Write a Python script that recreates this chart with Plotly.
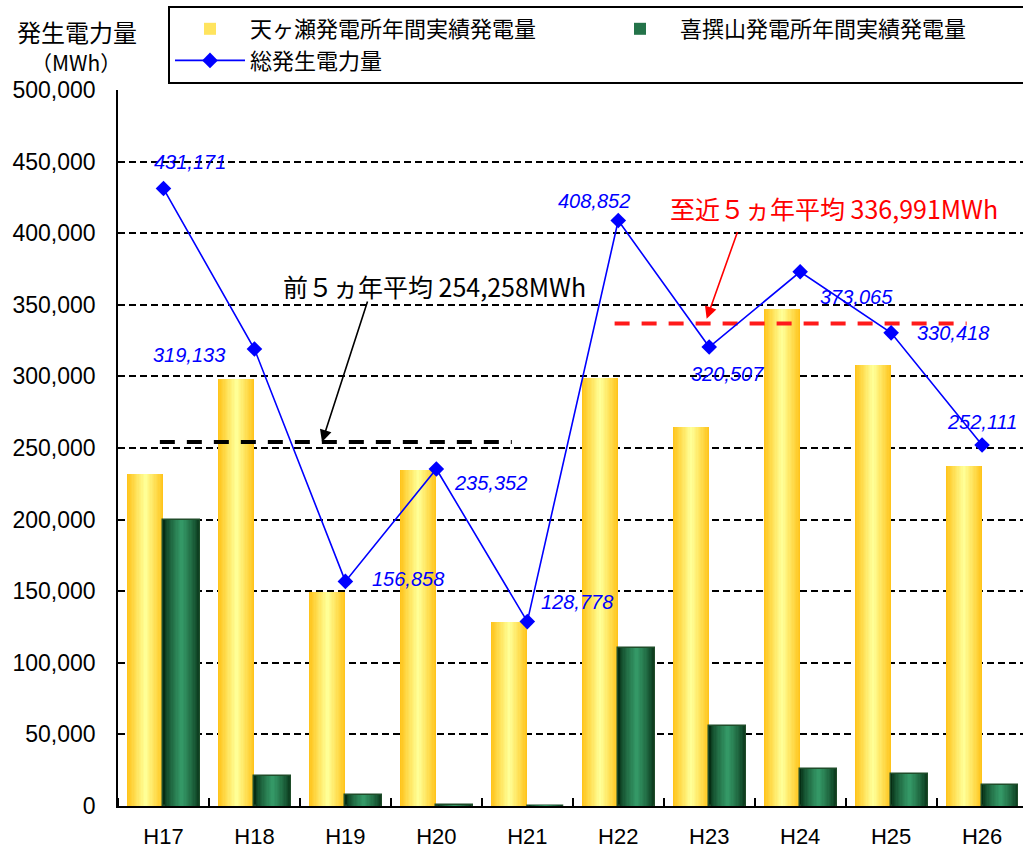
import plotly.graph_objects as go

# ---- data -------------------------------------------------------------
years = ["H17", "H18", "H19", "H20", "H21", "H22", "H23", "H24", "H25", "H26"]
amagase = [231500, 298000, 149500, 234900, 128478, 298600, 264500, 347400, 308000, 237500]
kisenyama = [199671, 21133, 7358, 452, 300, 110252, 56007, 25665, 22418, 14611]
total = [431171, 319133, 156858, 235352, 128778, 408852, 320507, 373065, 330418, 252111]
avg_prev = 254258      # 前5ヵ年平均 (H17-H21)
avg_recent = 336991    # 至近5ヵ年平均 (H22-H26)
y_ticks = list(range(0, 500001, 50000))

name_amagase = "天ヶ瀬発電所年間実績発電量"
name_kisen = "喜撰山発電所年間実績発電量"
name_total = "総発生電力量"

# ---- geometry / style -------------------------------------------------
W_PX, H_PX = 1023, 850
M_L, M_T, M_B, M_R = 118, 90, 44, 0
X_RANGE = [-0.5, 9.45]
Y_RANGE = [0, 500000]
BAR_W = 0.40          # width of each bar (category units)
LAYERS = 14           # layers used to shade each bar horizontally

# pixel offsets of the value labels on the total line
label_offsets = [(27, 27), (-65, -6), (63, 2), (54, -14), (50, 20),
                 (-24, 20), (18, -27), (56, -25), (62, 0), (0, 23)]

CJK = "Noto Sans CJK JP, Noto Sans CJK SC, sans-serif"
LAT = "Liberation Sans, Arial, sans-serif"

x = list(range(len(years)))
PLOT_W = W_PX - M_L - M_R
PLOT_H = H_PX - M_T - M_B


def mix(c0, c1, t):
    r, g, b = (round(a + (bb - a) * t) for a, bb in zip(c0, c1))
    return f"rgb({r},{g},{b})"


def px_to_x(px):
    return X_RANGE[0] + (px - M_L) / PLOT_W * (X_RANGE[1] - X_RANGE[0])


def px_to_y(py):
    return Y_RANGE[0] + (H_PX - M_B - py) / PLOT_H * (Y_RANGE[1] - Y_RANGE[0])


def px_to_paper(px, py):
    return (px - M_L) / PLOT_W, (H_PX - M_B - py) / PLOT_H


yellow_edge, yellow_mid = (255, 196, 28), (255, 255, 150)
green_edge, green_mid = (6, 46, 20), (52, 152, 102)

fig = go.Figure()

# shaded bars: stack of narrowing layers sharing the same values
for k in range(LAYERS):
    w = BAR_W * (1 - k / LAYERS)
    t = k / (LAYERS - 1)
    fig.add_bar(
        x=x, y=amagase, width=w, offset=-BAR_W / 2 - w / 2,
        marker=dict(color=mix(yellow_edge, yellow_mid, t), line=dict(width=0)),
        name=name_amagase, legendgroup="a", showlegend=(k == LAYERS // 2),
    )
for k in range(LAYERS):
    w = BAR_W * (1 - k / LAYERS)
    t = (k / (LAYERS - 1)) ** 0.7
    fig.add_bar(
        x=x, y=kisenyama, width=w, offset=BAR_W / 2 - w / 2,
        marker=dict(color=mix(green_edge, green_mid, t),
                    line=dict(width=1.5 if k == 0 else 0, color="#1f4d2a")),
        name=name_kisen, legendgroup="k", showlegend=(k == LAYERS // 2),
    )

# five-year average lines
prev_span = [years.index("H17") - 0.04, years.index("H21") - 0.17]
recent_span = [years.index("H22") - 0.04, years.index("H26") - 0.17]
fig.add_scatter(x=prev_span, y=[avg_prev, avg_prev], mode="lines",
                line=dict(color="black", width=4, dash="15px,12px"),
                showlegend=False)
fig.add_scatter(x=recent_span, y=[avg_recent, avg_recent], mode="lines",
                line=dict(color="#FF1A1A", width=4, dash="15px,12px"),
                showlegend=False)

# total generation line
fig.add_scatter(
    x=x, y=total, mode="lines+markers", name=name_total,
    line=dict(color="#0000FF", width=1.6),
    marker=dict(symbol="diamond", size=12, color="#0000FF"),
)

annotations = []
for i, v in enumerate(total):
    dx, dy = label_offsets[i]
    annotations.append(dict(
        x=x[i], y=v, xref="x", yref="y", text=f"{v:,}", showarrow=False,
        xshift=dx, yshift=dy,
        font=dict(family=LAT, size=20, color="#0000FF", style="italic"),
    ))

tx1, ty1 = px_to_paper(77, 32)
tx2, ty2 = px_to_paper(76, 62)

annotations += [
    dict(x=px_to_x(434), y=px_to_y(286), xref="x", yref="y", showarrow=False,
         text=f"前５ヵ年平均 {avg_prev:,}MWh",
         font=dict(family=CJK, size=25, color="black")),
    dict(x=px_to_x(322), y=avg_prev, xref="x", yref="y", text="",
         showarrow=True, ax=46, ay=-142, arrowhead=2, arrowsize=1.5,
         arrowwidth=1.6, arrowcolor="black"),
    dict(x=px_to_x(834), y=px_to_y(208), xref="x", yref="y", showarrow=False,
         text=f"至近５ヵ年平均 {avg_recent:,}MWh",
         font=dict(family=CJK, size=25, color="#FF0000")),
    dict(x=px_to_x(705), y=avg_recent, xref="x", yref="y", text="",
         showarrow=True, ax=33, ay=-93, standoff=5, arrowhead=2, arrowsize=1.5,
         arrowwidth=1.6, arrowcolor="#FF0000"),
    # y-axis title
    dict(x=tx1, y=ty1, xref="paper", yref="paper",
         text="発生電力量", showarrow=False, xanchor="center", yanchor="middle",
         font=dict(family=CJK, size=24, color="black")),
    dict(x=tx2, y=ty2, xref="paper", yref="paper",
         text="（MWh）", showarrow=False, xanchor="center", yanchor="middle",
         font=dict(family=CJK, size=21, color="black")),
]

fig.update_layout(
    width=W_PX, height=H_PX,
    margin=dict(l=M_L, r=M_R, t=M_T, b=M_B, pad=0, autoexpand=False),
    paper_bgcolor="white", plot_bgcolor="white",
    barmode="overlay", bargap=0,
    font=dict(family=LAT, color="black"),
    annotations=annotations,
    legend=dict(
        orientation="h", xref="container", yref="container",
        x=168 / W_PX, y=1 - 6 / H_PX, xanchor="left", yanchor="top",
        bordercolor="black", borderwidth=2, bgcolor="white",
        font=dict(family=CJK, size=22, color="black"),
        entrywidth=345, entrywidthmode="pixels", itemwidth=70,
        traceorder="normal",
    ),
    xaxis=dict(
        range=X_RANGE, tickvals=x, ticktext=years, ticks="",
        showline=True, linecolor="black", linewidth=2,
        showgrid=False, zeroline=False,
        tickfont=dict(family=LAT, size=22, color="black"),
        ticklabelstandoff=10,
        minor=dict(tickvals=[i - 0.5 for i in x], ticks="inside",
                   ticklen=8, tickwidth=1.5, tickcolor="black", showgrid=False),
    ),
    yaxis=dict(
        range=Y_RANGE, tickvals=y_ticks, tickformat=",",
        showgrid=True, gridcolor="black", gridwidth=1.5, griddash="7px,4px",
        showline=True, linecolor="black", linewidth=1.5, zeroline=False,
        ticks="", tickfont=dict(family=LAT, size=23, color="black"),
        ticklabelstandoff=16,
    ),
    hovermode=False,
)

fig.write_html("out.html")
